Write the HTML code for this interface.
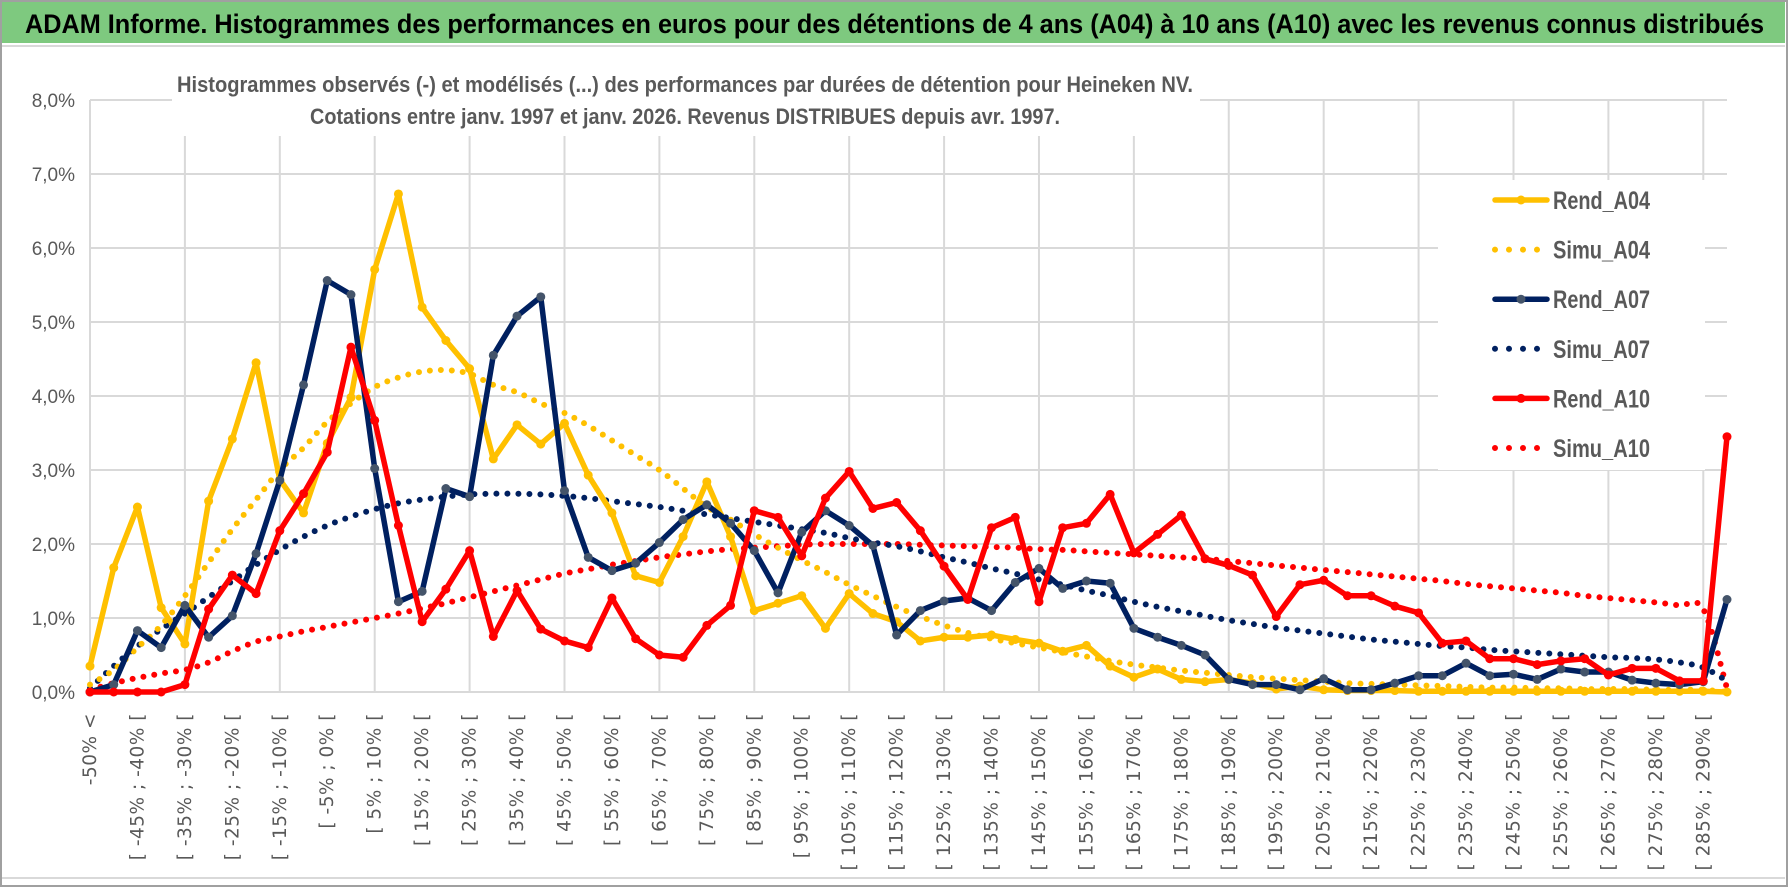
<!DOCTYPE html>
<html><head><meta charset="utf-8">
<style>
html,body{margin:0;padding:0;background:#fff;}
svg{display:block;}
</style></head>
<body>
<svg id="chart" xmlns="http://www.w3.org/2000/svg" width="1790" height="888" viewBox="0 0 1790 888">
  <rect x="0" y="0" width="1790" height="888" fill="#fff"/>
  <rect x="1" y="1" width="1786" height="885" fill="none" stroke="#a0a0a0" stroke-width="2"/>
  <rect x="2" y="2" width="1783" height="41" fill="#7ec97f"/>
  <line x1="2" y1="46" x2="1785" y2="46" stroke="#d9d9d9" stroke-width="2"/>
  <line x1="2" y1="878" x2="1785" y2="878" stroke="#d9d9d9" stroke-width="2"/>
  <text x="25" y="33" font-family="'Liberation Sans Narrow','Liberation Sans',sans-serif" font-weight="bold" font-size="27" fill="#000" textLength="1739" lengthAdjust="spacingAndGlyphs">ADAM Informe. Histogrammes des performances en euros pour des détentions de 4 ans (A04) à 10 ans (A10) avec les revenus connus distribués</text>
  <g id="grid"></g>
  <rect x="172" y="50" width="1028" height="86" fill="#fff"/>
  <rect x="1438" y="180" width="267" height="290" fill="#fff"/>
  <text x="177" y="92" font-family="'Liberation Sans Narrow','Liberation Sans',sans-serif" font-weight="bold" font-size="22" fill="#595959" textLength="1016" lengthAdjust="spacingAndGlyphs">Histogrammes observés (-) et modélisés (...) des performances par durées de détention pour Heineken NV.</text>
  <text x="310" y="124" font-family="'Liberation Sans Narrow','Liberation Sans',sans-serif" font-weight="bold" font-size="22" fill="#595959" textLength="750" lengthAdjust="spacingAndGlyphs">Cotations entre janv. 1997 et janv. 2026. Revenus DISTRIBUES depuis avr. 1997.</text>
  <g id="yaxis"></g>
  <g id="xaxis"></g>
  <g id="series"></g>
  <g id="legend"></g>
</svg>
<script>
const yTicks = [0,1,2,3,4,5,6,7,8];
const rendA04 = [0.35,1.68,2.5,1.14,0.65,2.58,3.42,4.45,2.87,2.42,3.36,3.98,5.71,6.73,5.2,4.75,4.37,3.15,3.61,3.35,3.63,2.93,2.42,1.57,1.48,2.1,2.84,2.1,1.1,1.2,1.3,0.86,1.33,1.06,0.95,0.69,0.74,0.74,0.77,0.71,0.66,0.55,0.63,0.35,0.2,0.31,0.17,0.14,0.17,0.12,0.04,0.08,0.03,0.02,0.02,0.02,0.01,0.01,0.01,0.01,0.01,0.01,0.01,0.01,0.01,0.01,0.01,0.01,0.01,0.0];
const simuA04 = [0.1,0.3,0.6,0.9,1.3,1.75,2.2,2.6,3.0,3.3,3.65,3.9,4.12,4.25,4.33,4.35,4.3,4.15,4.05,3.9,3.77,3.6,3.4,3.2,3.0,2.75,2.5,2.33,2.13,1.95,1.78,1.62,1.45,1.3,1.15,1.02,0.9,0.8,0.72,0.66,0.6,0.54,0.48,0.42,0.37,0.33,0.29,0.26,0.23,0.2,0.18,0.16,0.14,0.12,0.11,0.1,0.09,0.08,0.07,0.06,0.06,0.05,0.05,0.04,0.04,0.04,0.03,0.03,0.03,0.0];
const rendA07 = [0,0.1,0.83,0.6,1.17,0.74,1.03,1.87,2.86,4.15,5.56,5.37,3.02,1.22,1.36,2.75,2.64,4.55,5.08,5.34,2.72,1.82,1.64,1.74,2.02,2.33,2.53,2.28,1.91,1.34,2.16,2.45,2.25,1.98,0.77,1.1,1.23,1.27,1.1,1.48,1.67,1.4,1.5,1.47,0.86,0.74,0.63,0.5,0.17,0.1,0.1,0.03,0.18,0.03,0.03,0.12,0.22,0.22,0.39,0.22,0.24,0.17,0.31,0.27,0.27,0.16,0.12,0.1,0.14,1.25];
const simuA07 = [0.05,0.35,0.62,0.85,1.06,1.28,1.5,1.72,1.92,2.1,2.25,2.37,2.47,2.55,2.6,2.64,2.67,2.68,2.68,2.67,2.65,2.62,2.58,2.54,2.5,2.45,2.4,2.35,2.3,2.25,2.2,2.15,2.08,2.02,1.97,1.9,1.82,1.75,1.67,1.6,1.52,1.45,1.37,1.3,1.22,1.15,1.09,1.03,0.97,0.92,0.87,0.83,0.79,0.75,0.71,0.68,0.65,0.62,0.6,0.57,0.55,0.53,0.51,0.49,0.47,0.46,0.44,0.4,0.33,0.15];
const rendA10 = [0,0,0,0,0.1,1.12,1.58,1.33,2.18,2.68,3.24,4.66,3.67,2.25,0.95,1.39,1.91,0.75,1.37,0.85,0.69,0.6,1.27,0.72,0.5,0.47,0.9,1.17,2.45,2.36,1.84,2.62,2.98,2.48,2.56,2.18,1.7,1.25,2.22,2.36,1.22,2.22,2.28,2.67,1.88,2.13,2.39,1.8,1.71,1.58,1.02,1.45,1.51,1.3,1.3,1.16,1.07,0.66,0.69,0.45,0.45,0.37,0.42,0.45,0.23,0.32,0.32,0.15,0.15,3.45];
const simuA10 = [0.03,0.12,0.19,0.25,0.3,0.4,0.55,0.68,0.75,0.82,0.88,0.94,1.0,1.06,1.13,1.2,1.28,1.36,1.44,1.52,1.6,1.66,1.72,1.77,1.82,1.86,1.9,1.93,1.95,1.97,1.99,2.0,2.0,2.0,2.0,1.99,1.98,1.97,1.96,1.95,1.93,1.92,1.9,1.88,1.86,1.84,1.82,1.8,1.77,1.74,1.71,1.68,1.65,1.62,1.59,1.56,1.53,1.5,1.46,1.43,1.4,1.37,1.34,1.3,1.27,1.24,1.21,1.17,1.12,0.05];
const seriesNames = ["Rend_A04","Simu_A04","Rend_A07","Simu_A07","Rend_A10","Simu_A10"];

const NS = "http://www.w3.org/2000/svg";
const N = rendA04.length;
const X0 = 90, X1 = 1727, Y0 = 692, YTOP = 100, YMAX = 8;
const xs = i => X0 + (X1 - X0) * i / (N - 1);
const ys = v => Y0 - (Y0 - YTOP) * v / YMAX;
function mk(tag, attrs, parent){ const e = document.createElementNS(NS, tag); for (const k in attrs) e.setAttribute(k, attrs[k]); parent.appendChild(e); return e; }
function catLabel(i){
  if (i === 0) return "-50% <";
  const lo = -50 + 5*(i-1), hi = lo + 5;
  return "[ " + lo + "% ; " + hi + "% [";
}

const grid = document.getElementById('grid');
yTicks.forEach(t => {
  const l = mk('line', {x1:X0, x2:X1, y1:ys(t), y2:ys(t), stroke:'#d9d9d9', 'stroke-width':2}, grid);
  
  
});
for (let i = 0; i < N; i += 4) {
  const l = mk('line', {x1:xs(i), x2:xs(i), y1:YTOP, y2:Y0, stroke:'#d9d9d9', 'stroke-width':2}, grid);
  
  
}

const yaxis = document.getElementById('yaxis');
yTicks.forEach(t => {
  const tx = mk('text', {x:75, y:ys(t)+7, 'text-anchor':'end', 'font-family':"'Liberation Sans Narrow','Liberation Sans',sans-serif", 'font-size':19, fill:'#595959'}, yaxis);
  
  
  tx.textContent = t.toFixed(1).replace('.', ',') + '%';
});

const xaxis = document.getElementById('xaxis');
for (let i = 0; i < N; i += 2) {
  const tx = mk('text', {transform:'translate(' + (xs(i)+6) + ',713) rotate(-90)', 'text-anchor':'end', 'font-family':"'DejaVu Sans','Liberation Sans',sans-serif", 'font-size':18.5, 'letter-spacing':0.5, fill:'#595959'}, xaxis);
  
  
  tx.textContent = catLabel(i);
}

function smoothPath(vals){
  const p = vals.map((v,i) => [xs(i), ys(v)]);
  let d = 'M' + p[0][0] + ' ' + p[0][1];
  for (let i = 0; i < p.length - 1; i++) {
    const a = p[Math.max(0,i-1)], b = p[i], c = p[i+1], e = p[Math.min(p.length-1,i+2)];
    const c1x = b[0] + (c[0]-a[0])/6, c1y = b[1] + (c[1]-a[1])/6;
    const c2x = c[0] - (e[0]-b[0])/6, c2y = c[1] - (e[1]-b[1])/6;
    d += ' C' + c1x + ' ' + c1y + ' ' + c2x + ' ' + c2y + ' ' + c[0] + ' ' + c[1];
  }
  return d;
}
const layer = document.getElementById('series');
function dotted(vals, color, name){
  const p = mk('path', {d:smoothPath(vals), fill:'none', stroke:color, 'stroke-width':6, 'stroke-linecap':'round', 'stroke-dasharray':'0 11'}, layer);
  
  
}
function solid(vals, color, mcolor, name){
  const pts = vals.map((v,i) => xs(i) + ',' + ys(v)).join(' ');
  const pl = mk('polyline', {points:pts, fill:'none', stroke:color, 'stroke-width':5.5, 'stroke-linejoin':'round'}, layer);
  
  
  vals.forEach((v,i) => {
    const c = mk('circle', {cx:xs(i), cy:ys(v), r:4.5, fill:mcolor}, layer);
    
    
  });
}
dotted(simuA10, '#ff0000', 'simu-a10-line');
dotted(simuA07, '#002060', 'simu-a07-line');
dotted(simuA04, '#ffc000', 'simu-a04-line');
solid(rendA04, '#ffc000', '#ffc000', 'rend-a04-line');
solid(rendA07, '#002060', '#44546a', 'rend-a07-line');
solid(rendA10, '#ff0000', '#ff0000', 'rend-a10-line');

const legend = document.getElementById('legend');
const legColors = ['#ffc000','#ffc000','#002060','#002060','#ff0000','#ff0000'];
const legMarker = ['#ffc000','#ffc000','#44546a','#44546a','#ff0000','#ff0000'];
seriesNames.forEach((nm, k) => {
  const y = 200 + k * 49.6;
  if (k % 2 === 0) {
    const l = mk('line', {x1:1495, x2:1547, y1:y, y2:y, stroke:legColors[k], 'stroke-width':5.5, 'stroke-linecap':'round'}, legend);
    
    
    const c = mk('circle', {cx:1521, cy:y, r:4.5, fill:legMarker[k]}, legend);
    
    
  } else {
    const l = mk('line', {x1:1495, x2:1540, y1:y, y2:y, stroke:legColors[k], 'stroke-width':6, 'stroke-linecap':'round', 'stroke-dasharray':'0 14'}, legend);
    
    
  }
  const t = mk('text', {x:1553, y:y+9, 'font-family':"'Liberation Sans Narrow','Liberation Sans',sans-serif", 'font-weight':'bold', 'font-size':25, fill:'#595959', textLength:97, lengthAdjust:'spacingAndGlyphs'}, legend);
  
  
  t.textContent = nm;
});
</script>
</body></html>
